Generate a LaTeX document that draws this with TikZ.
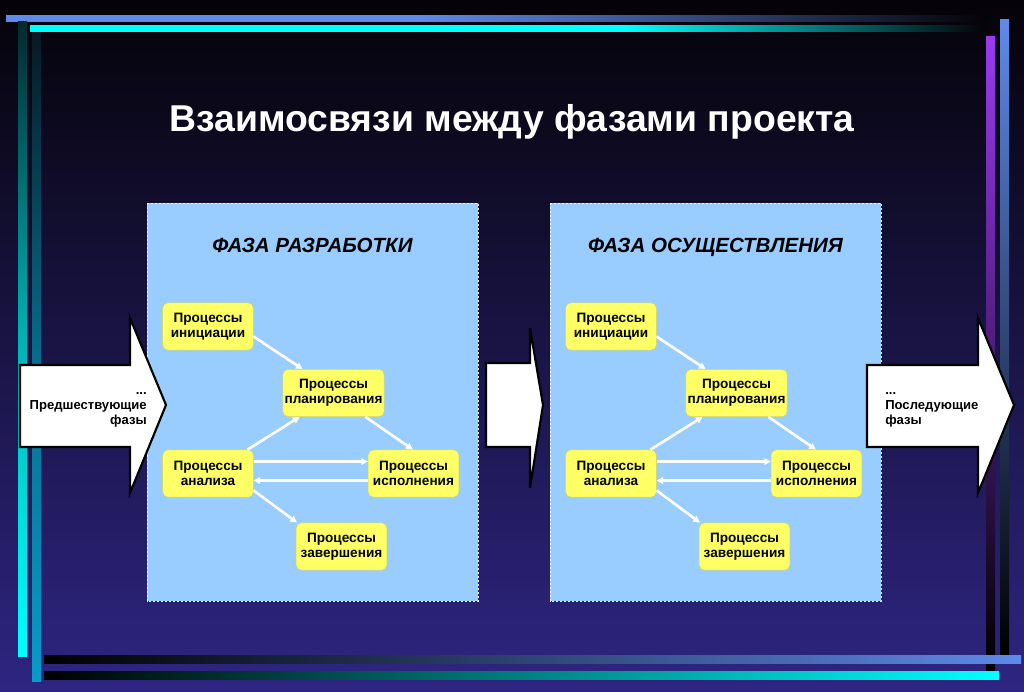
\documentclass[tikz,border=0pt]{standalone}
\usepackage{fontspec}
\setmainfont{Liberation Sans}
\usetikzlibrary{arrows.meta,calc}
\definecolor{bgtop}{HTML}{050308}
\definecolor{bgmid}{HTML}{161240}
\definecolor{bgbot}{HTML}{2E2582}
\definecolor{barblue}{HTML}{5F8AE8}
\definecolor{barcyan}{HTML}{00FFFF}
\definecolor{barteal}{HTML}{0A9AC8}
\definecolor{barpurple}{HTML}{9A3AF0}
\definecolor{panelblue}{HTML}{99CCFF}
\definecolor{procyellow}{HTML}{FFFF66}
\pgfdeclarehorizontalshading{bluefade}{100bp}{color(0bp)=(barblue); color(25bp)=(barblue); color(46bp)=(barblue); color(75bp)=(bgtop); color(100bp)=(bgtop)}
\pgfdeclarehorizontalshading{cyanfade}{100bp}{color(0bp)=(barcyan); color(25bp)=(barcyan); color(56bp)=(barcyan); color(75bp)=(bgtop); color(100bp)=(bgtop)}
\tikzset{
  panelbox/.style={fill=panelblue, draw=white!85!panelblue, line width=0.6pt, dash pattern=on 1.8pt off 1.2pt},
  proc/.style={fill=procyellow, draw=procyellow!85!black, line width=0.3pt, rounded corners=4pt,
    minimum width=68pt, minimum height=35.5pt, inner sep=0pt, align=center,
    font=\bfseries\fontsize{10.2}{11.4}\selectfont},
  conn/.style={draw=white, line width=2pt, -{Triangle[length=5pt,width=5pt]}},
  bigarrow/.style={fill=white, draw=black, line width=1.6pt, line join=miter},
  arrowtext/.style={font=\bfseries\fontsize{9.8}{11.2}\selectfont, inner sep=0pt},
  phasetitle/.style={font=\bfseries\itshape\fontsize{15.4}{18}\selectfont, anchor=base},
}
\newcommand\phasepanel[3]{%
\begin{scope}[shift={(#2,0)}]
  \draw[panelbox] (147,203) rectangle (478,601);
  \node[phasetitle] (#1title) at (312.5,252) {#3};
  \node[proc, minimum width=68pt] (#1init) at (208,326.5) {Процессы\\инициации};
  \node[proc, minimum width=76pt] (#1plan) at (333.5,393) {Процессы\\планирования};
  \node[proc] (#1anal) at (208,473.5) {Процессы\\анализа};
  \node[proc] (#1exec) at (413.5,473.5) {Процессы\\исполнения};
  \node[proc] (#1comp) at (341.5,546.5) {Процессы\\завершения};
  \draw[conn] ($(#1init.east)+(0,10)$) -- ($(#1plan.north west)+(20,0)$);
  \draw[conn] ($(#1anal.north east)+(-6,0)$) -- ($(#1plan.south west)+(17,0)$);
  \draw[conn] ($(#1plan.south east)+(-19,0)$) -- ($(#1exec.north west)+(45,0)$);
  \draw[conn] ($(#1anal.east)+(0,-12)$) -- ($(#1exec.west)+(0,-12)$);
  \draw[conn] ($(#1exec.west)+(0,7)$) -- ($(#1anal.east)+(0,7)$);
  \draw[conn] ($(#1anal.south east)+(0,-7)$) -- ($(#1comp.north west)+(1,0)$);
\end{scope}}
\begin{document}
\begin{tikzpicture}[x=0.75pt,y=-0.75pt]
\useasboundingbox (0,0) rectangle (1024,692);
% background
\shade[top color=bgtop, middle color=bgmid, bottom color=bgbot] (0,0) rectangle (1024,692);
% top bars
\shade[shading=bluefade] (6,16) rectangle (985,22);
\shade[shading=cyanfade] (30,26) rectangle (985,32);
% left vertical bars
\shade[top color=barcyan!15!bgtop, bottom color=barcyan, middle color=barcyan!70!black] (18,22) rectangle (27,656);
\shade[top color=barteal!15!bgtop, bottom color=barteal, middle color=barteal!70!black] (32,33) rectangle (41,681);
% right vertical bars
\shade[top color=barpurple, middle color=barpurple!85!black, bottom color=black] (986,37) rectangle (995,670);
\shade[top color=barblue, middle color=barblue!60!black, bottom color=black] (1000,20) rectangle (1009,655);
% bottom bars
\shade[left color=black, right color=barblue] (44,655) rectangle (1021,663);
\shade[left color=black, right color=barcyan] (44,671) rectangle (999,679);
% title
\node[text=white, font=\bfseries\fontsize{28}{32}\selectfont] (title) at (512,122) {Взаимосвязи между фазами проекта};
% panels
\phasepanel{a}{0}{ФАЗА РАЗРАБОТКИ}
\phasepanel{b}{403}{ФАЗА ОСУЩЕСТВЛЕНИЯ}
% big arrows
\draw[bigarrow] (20,365) -- (130,365) -- (130,318) -- (166,405) -- (130,493) -- (130,447) -- (20,447) -- cycle;
\node[arrowtext, anchor=east, align=right] (prevtext) at (147,410) {...\\Предшествующие\\фазы};
\draw[bigarrow] (486,363) -- (530,363) -- (530,328) -- (543,405) -- (530,488) -- (530,447) -- (486,447) -- cycle;
\draw[bigarrow] (867,365) -- (978,365) -- (978,318) -- (1014,405) -- (978,493) -- (978,447) -- (867,447) -- cycle;
\node[arrowtext, anchor=west, align=left] (nexttext) at (885,410) {...\\Последующие\\фазы};
\end{tikzpicture}
\end{document}
